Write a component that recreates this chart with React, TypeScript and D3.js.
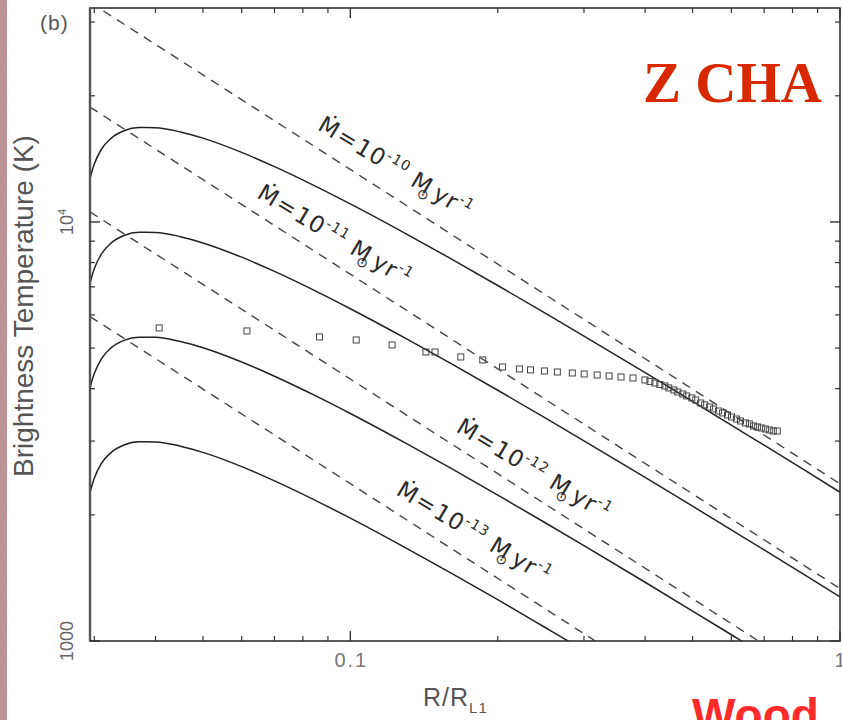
import React from 'react';
import * as d3 from 'd3';

const W = 842;
const H = 720;
const PL = 90, PR = 840, PT = 8, PB = 641;

// model curve samples
const radii = [0.0294, 0.0297, 0.0300, 0.0310, 0.0325, 0.0345, 0.0370, 0.0400, 0.0450, 0.0500, 0.0600, 0.0700, 0.0850, 0.1000, 0.1300, 0.1600, 0.2000, 0.2500, 0.3000, 0.4000, 0.5000, 0.6000, 0.7000, 0.8500, 1.0000];
const tempM10 = [12662, 13264, 13748, 14889, 15850, 16500, 16794, 16784, 16398, 15847, 14652, 13549, 12159, 11039, 9367, 8186, 7052, 6056, 5339, 4367, 3729, 3273, 2932, 2550, 2265];
const tempM11 = [7121, 7460, 7732, 8374, 8914, 9279, 9445, 9439, 9222, 8912, 8240, 7620, 6838, 6208, 5268, 4604, 3966, 3406, 3003, 2456, 2097, 1841, 1649, 1434, 1274];
const tempM12 = [4004, 4194, 4347, 4708, 5012, 5217, 5310, 5307, 5185, 5011, 4633, 4284, 3845, 3491, 2962, 2588, 2230, 1915, 1688, 1381, 1179, 1035, 927, 806, 716];
const tempM13 = [2253, 2360, 2446, 2649, 2820, 2935, 2988, 2986, 2917, 2819, 2607, 2410, 2163, 1964, 1666, 1456, 1255, 1077, 950, 777, 663, 582, 522, 454, 403];

// asymptotic power-law (dashed) lines: endpoints
const dashR = [0.0294, 1.0];
const dashM10 = [33421, 2372];
const dashM11 = [18796, 1334];
const dashM12 = [10568, 750];
const dashM13 = [5946, 422];

// observed brightness temperatures (squares)
const obsR = [0.0407, 0.0615, 0.0865, 0.1028, 0.1217, 0.1427, 0.1489, 0.1681, 0.1864, 0.2046, 0.2215, 0.2333, 0.2491, 0.2647, 0.2840, 0.3003, 0.3192, 0.3377, 0.3571, 0.3778, 0.3996, 0.4090, 0.4188, 0.4287, 0.4388, 0.4471, 0.4578, 0.4663, 0.4775, 0.4864, 0.4981, 0.5074, 0.5194, 0.5292, 0.5417, 0.5520, 0.5649, 0.5757, 0.5892, 0.6005, 0.6144, 0.6262, 0.6410, 0.6531, 0.6656, 0.6782, 0.6910, 0.7041, 0.7172, 0.7306, 0.7447];
const obsT = [5585, 5494, 5316, 5228, 5087, 4894, 4894, 4762, 4685, 4507, 4459, 4435, 4410, 4385, 4361, 4337, 4313, 4290, 4266, 4243, 4197, 4163, 4128, 4094, 4061, 4017, 3972, 3929, 3886, 3844, 3802, 3760, 3698, 3659, 3618, 3578, 3539, 3501, 3462, 3424, 3387, 3350, 3314, 3296, 3260, 3242, 3224, 3206, 3188, 3171, 3171];

// curve labels
const labelExp = ['-10', '-11', '-12', '-13'];
const labelR = [0.0853, 0.0641, 0.1635, 0.1234];
const labelT = [16672, 11473, 3171, 2243];

// ticks
const xMinorTicks = [0.03, 0.04, 0.05, 0.06, 0.07, 0.08, 0.09, 0.2, 0.3, 0.4, 0.5, 0.6, 0.7, 0.8, 0.9];
const xMajorTicks = [0.1, 1];
const yMinorTicks = [2000, 3000, 4000, 5000, 6000, 7000, 8000, 9000, 20000, 30000];
const yMajorTicks = [1000, 10000];

export default function App() {
  const x = d3.scaleLog().domain([0.0294, 1.0]).range([PL, PR]);
  const y = d3.scaleLog().domain([1000, 32400]).range([PB, PT]);

  const curve = d3
    .line<[number, number]>()
    .x((d) => x(d[0]))
    .y((d) => y(d[1]))
    .curve(d3.curveMonotoneX);
  const straight = d3
    .line<[number, number]>()
    .x((d) => x(d[0]))
    .y((d) => y(d[1]));

  const solids = [tempM10, tempM11, tempM12, tempM13].map((t) =>
    radii.map((r, i) => [r, t[i]] as [number, number])
  );
  const dashes = [dashM10, dashM11, dashM12, dashM13].map((t) =>
    dashR.map((r, i) => [r, t[i]] as [number, number])
  );

  const axisColor = '#333';
  const sq = 6;

  return (
    <svg
      width={W}
      height={H}
      style={{ position: 'absolute', left: 0, top: 0, background: '#fff' }}
      fontFamily="'Liberation Sans', Arial, 'DejaVu Sans', sans-serif"
    >
      <defs>
        <clipPath id="plotclip">
          <rect x={PL} y={PT} width={PR - PL} height={PB - PT} />
        </clipPath>
        <filter id="grain" x="0" y="0" width="100%" height="100%">
          <feTurbulence type="fractalNoise" baseFrequency="0.9" numOctaves="2" seed="3" />
          <feColorMatrix type="matrix" values="0 0 0 0 0.55  0 0 0 0 0.38  0 0 0 0 0.40  0 0 0 1.2 -0.35" />
          <feComposite in2="SourceGraphic" operator="in" />
        </filter>
      </defs>
      <rect x={0} y={0} width={W} height={H} fill="#fff" />
      {/* pink textured strip */}
      <rect x={0} y={0} width={7} height={H} fill="#b98e92" />
      <rect x={0} y={0} width={7} height={H} fill="#b98e92" filter="url(#grain)" />

      <g clipPath="url(#plotclip)">
        {dashes.map((d, i) => (
          <path key={'d' + i} d={straight(d) || ''} fill="none" stroke="#444" strokeWidth={1.4} strokeDasharray="9,7" />
        ))}
        {solids.map((d, i) => (
          <path key={'s' + i} d={curve(d) || ''} fill="none" stroke="#222" strokeWidth={1.5} />
        ))}
        {obsR.map((r, i) => (
          <rect
            key={'o' + i}
            x={x(r) - sq / 2}
            y={y(obsT[i]) - sq / 2}
            width={sq}
            height={sq}
            fill="none"
            stroke="#444"
            strokeWidth={1}
          />
        ))}
      </g>

      {/* frame */}
      <rect x={PL} y={PT} width={PR - PL} height={PB - PT} fill="none" stroke={axisColor} strokeWidth={1.6} />
      <line x1={PL} x2={PL} y1={PT} y2={PB} stroke="#555" strokeWidth={2.4} />

      {/* x ticks */}
      {xMinorTicks.map((t) => (
        <g key={'xm' + t}>
          <line x1={x(t)} x2={x(t)} y1={PB} y2={PB - 5} stroke={axisColor} strokeWidth={1.2} />
          <line x1={x(t)} x2={x(t)} y1={PT} y2={PT + 5} stroke={axisColor} strokeWidth={1.2} />
        </g>
      ))}
      {xMajorTicks.map((t) => (
        <g key={'xM' + t}>
          <line x1={x(t)} x2={x(t)} y1={PB} y2={PB - 10} stroke={axisColor} strokeWidth={1.4} />
          <line x1={x(t)} x2={x(t)} y1={PT} y2={PT + 10} stroke={axisColor} strokeWidth={1.4} />
          <text x={x(t) + 1} y={667} textAnchor="middle" fontSize={20} fill="#777" letterSpacing={2}>
            {t === 0.1 ? '0.1' : '1'}
          </text>
        </g>
      ))}

      {/* y ticks */}
      {yMinorTicks.map((t) => (
        <g key={'ym' + t}>
          <line x1={PL} x2={PL + 5} y1={y(t)} y2={y(t)} stroke={axisColor} strokeWidth={1.2} />
          <line x1={PR} x2={PR - 5} y1={y(t)} y2={y(t)} stroke={axisColor} strokeWidth={1.2} />
        </g>
      ))}
      {yMajorTicks.map((t) => (
        <g key={'yM' + t}>
          <line x1={PL} x2={PL + 10} y1={y(t)} y2={y(t)} stroke={axisColor} strokeWidth={1.4} />
          <line x1={PR} x2={PR - 10} y1={y(t)} y2={y(t)} stroke={axisColor} strokeWidth={1.4} />
          <text
            transform={`translate(${73},${y(t)}) rotate(-90)`}
            textAnchor="middle"
            fontSize={18}
            fill="#666"
          >
            {t === 1000 ? '1000' : (<>10<tspan dy={-7} fontSize={11}>4</tspan></>)}
          </text>
        </g>
      ))}

      {/* axis titles */}
      <text
        transform={`translate(${33},${306}) rotate(-90)`}
        textAnchor="middle"
        fontSize={28}
        fill="#555"
      >
        Brightness Temperature (K)
      </text>
      <text x={423} y={706} fontSize={25} fill="#555" letterSpacing={1}>
        R/R<tspan dy={7} fontSize={15}>L1</tspan>
      </text>
      <text x={40} y={30} fontSize={21} fill="#555" letterSpacing={1}>
        (b)
      </text>

      {/* curve labels */}
      {labelR.map((r, i) => (
        <text
          key={'l' + i}
          transform={`translate(${x(r)},${y(labelT[i])}) rotate(31)`}
          fontSize={23}
          fill="#2a2a2a"
          fontFamily="'DejaVu Sans', 'Liberation Sans', sans-serif"
          letterSpacing={1}
        >
          <tspan>Ṁ</tspan>
          <tspan dx={1}>=</tspan>
          <tspan dx={1}>10</tspan>
          <tspan dy={-10} fontSize={14}>{labelExp[i]}</tspan>
          <tspan dy={10} dx={8}>M</tspan>
          <tspan dy={6} dx={-10} fontSize={14}>⊙</tspan>
          <tspan dy={-6} dx={2}>yr</tspan>
          <tspan dy={-10} fontSize={14}>-1</tspan>
        </text>
      ))}

      {/* overlay annotations */}
      <text
        x={643}
        y={102}
        fontSize={57}
        fontWeight="bold"
        fill="#d82800"
        fontFamily="'Liberation Serif', 'DejaVu Serif', serif"
      >
        Z CHA
      </text>
      <text x={692} y={731} fontSize={46} fontWeight="bold" fill="#ff2a2a">
        Wood
      </text>
    </svg>
  );
}
